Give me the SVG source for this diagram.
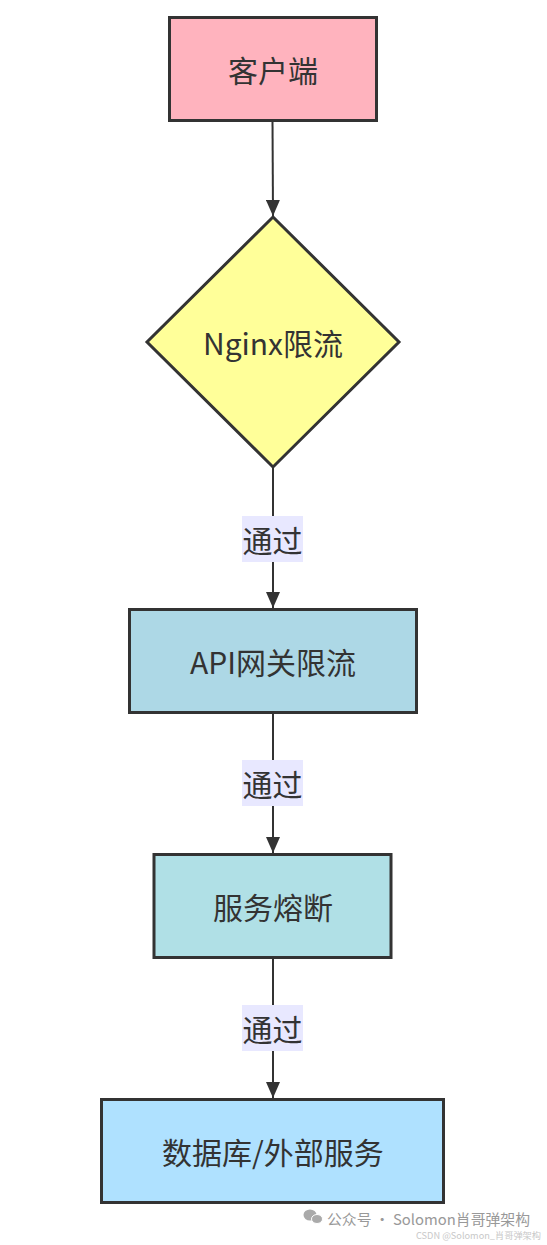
<svg xmlns="http://www.w3.org/2000/svg" width="547" height="1245" viewBox="0 0 547 1245">
<style>
.node{stroke:#333333;stroke-width:3}
.lbl{font-family:"Noto Sans CJK SC","Microsoft YaHei",sans-serif;font-size:30px;fill:#333333;text-anchor:middle;dominant-baseline:central}
.edge{stroke:#333333;stroke-width:2;fill:none}
.elbg{fill:#e8e8ff}
.wm{font-family:"Noto Sans CJK SC",sans-serif}
</style>
<defs>
<marker id="arrow" viewBox="0 0 16 14" refX="16" refY="7" markerWidth="16" markerHeight="14" markerUnits="userSpaceOnUse" orient="auto">
<path d="M0,0 L16,7 L0,14 z" fill="#333333"/>
</marker>
</defs>
<rect width="547" height="1245" fill="#ffffff"/>
<g id="edges">
<path class="edge" d="M272.5,120 L273,216" marker-end="url(#arrow)"/>
<path class="edge" d="M273,468 L273,608" marker-end="url(#arrow)"/>
<path class="edge" d="M273,713 L273,853" marker-end="url(#arrow)"/>
<path class="edge" d="M273,958 L273,1098" marker-end="url(#arrow)"/>
<g id="edge-label-1"><rect class="elbg" x="242" y="516" width="61" height="46"/><text class="lbl" x="272.5" y="539">通过</text></g>
<g id="edge-label-2"><rect class="elbg" x="242" y="760" width="61" height="46"/><text class="lbl" x="272.5" y="783">通过</text></g>
<g id="edge-label-3"><rect class="elbg" x="242" y="1005" width="61" height="46"/><text class="lbl" x="272.5" y="1028">通过</text></g>
</g>
<g id="node-client">
<rect class="node" x="169.5" y="17.5" width="207" height="103" fill="#ffb3be"/>
<text class="lbl" x="273" y="69">客户端</text>
</g>
<g id="node-nginx">
<polygon class="node" points="273,217 399,342 273,467 147,342" fill="#ffff99"/>
<text class="lbl" x="273" y="342" font-size="31">Nginx限流</text>
</g>
<g id="node-api">
<rect class="node" x="129.5" y="609.5" width="287" height="103" fill="#add8e6"/>
<text class="lbl" x="273" y="661">API网关限流</text>
</g>
<g id="node-circuit">
<rect class="node" x="154" y="854.5" width="237" height="103" fill="#b0e0e6"/>
<text class="lbl" x="273" y="906">服务熔断</text>
</g>
<g id="node-db">
<rect class="node" x="101.5" y="1099.5" width="342" height="103" fill="#afe1ff"/>
<text class="lbl" x="273" y="1151">数据库/外部服务</text>
</g>
<g id="watermark">
<ellipse cx="310" cy="1215" rx="6.5" ry="5.5" fill="#aaaaaa"/>
<ellipse cx="317" cy="1219" rx="5.5" ry="4.5" fill="#aaaaaa" stroke="#ffffff" stroke-width="1"/>
<text class="wm" x="327" y="1225" font-size="14.5" fill="#999999" textLength="203" lengthAdjust="spacingAndGlyphs">公众号 · Solomon肖哥弹架构</text>
<text class="wm" x="416" y="1239" font-size="9" fill="#c8c8c8" textLength="125" lengthAdjust="spacingAndGlyphs">CSDN @Solomon_肖哥弹架构</text>
</g>
</svg>
